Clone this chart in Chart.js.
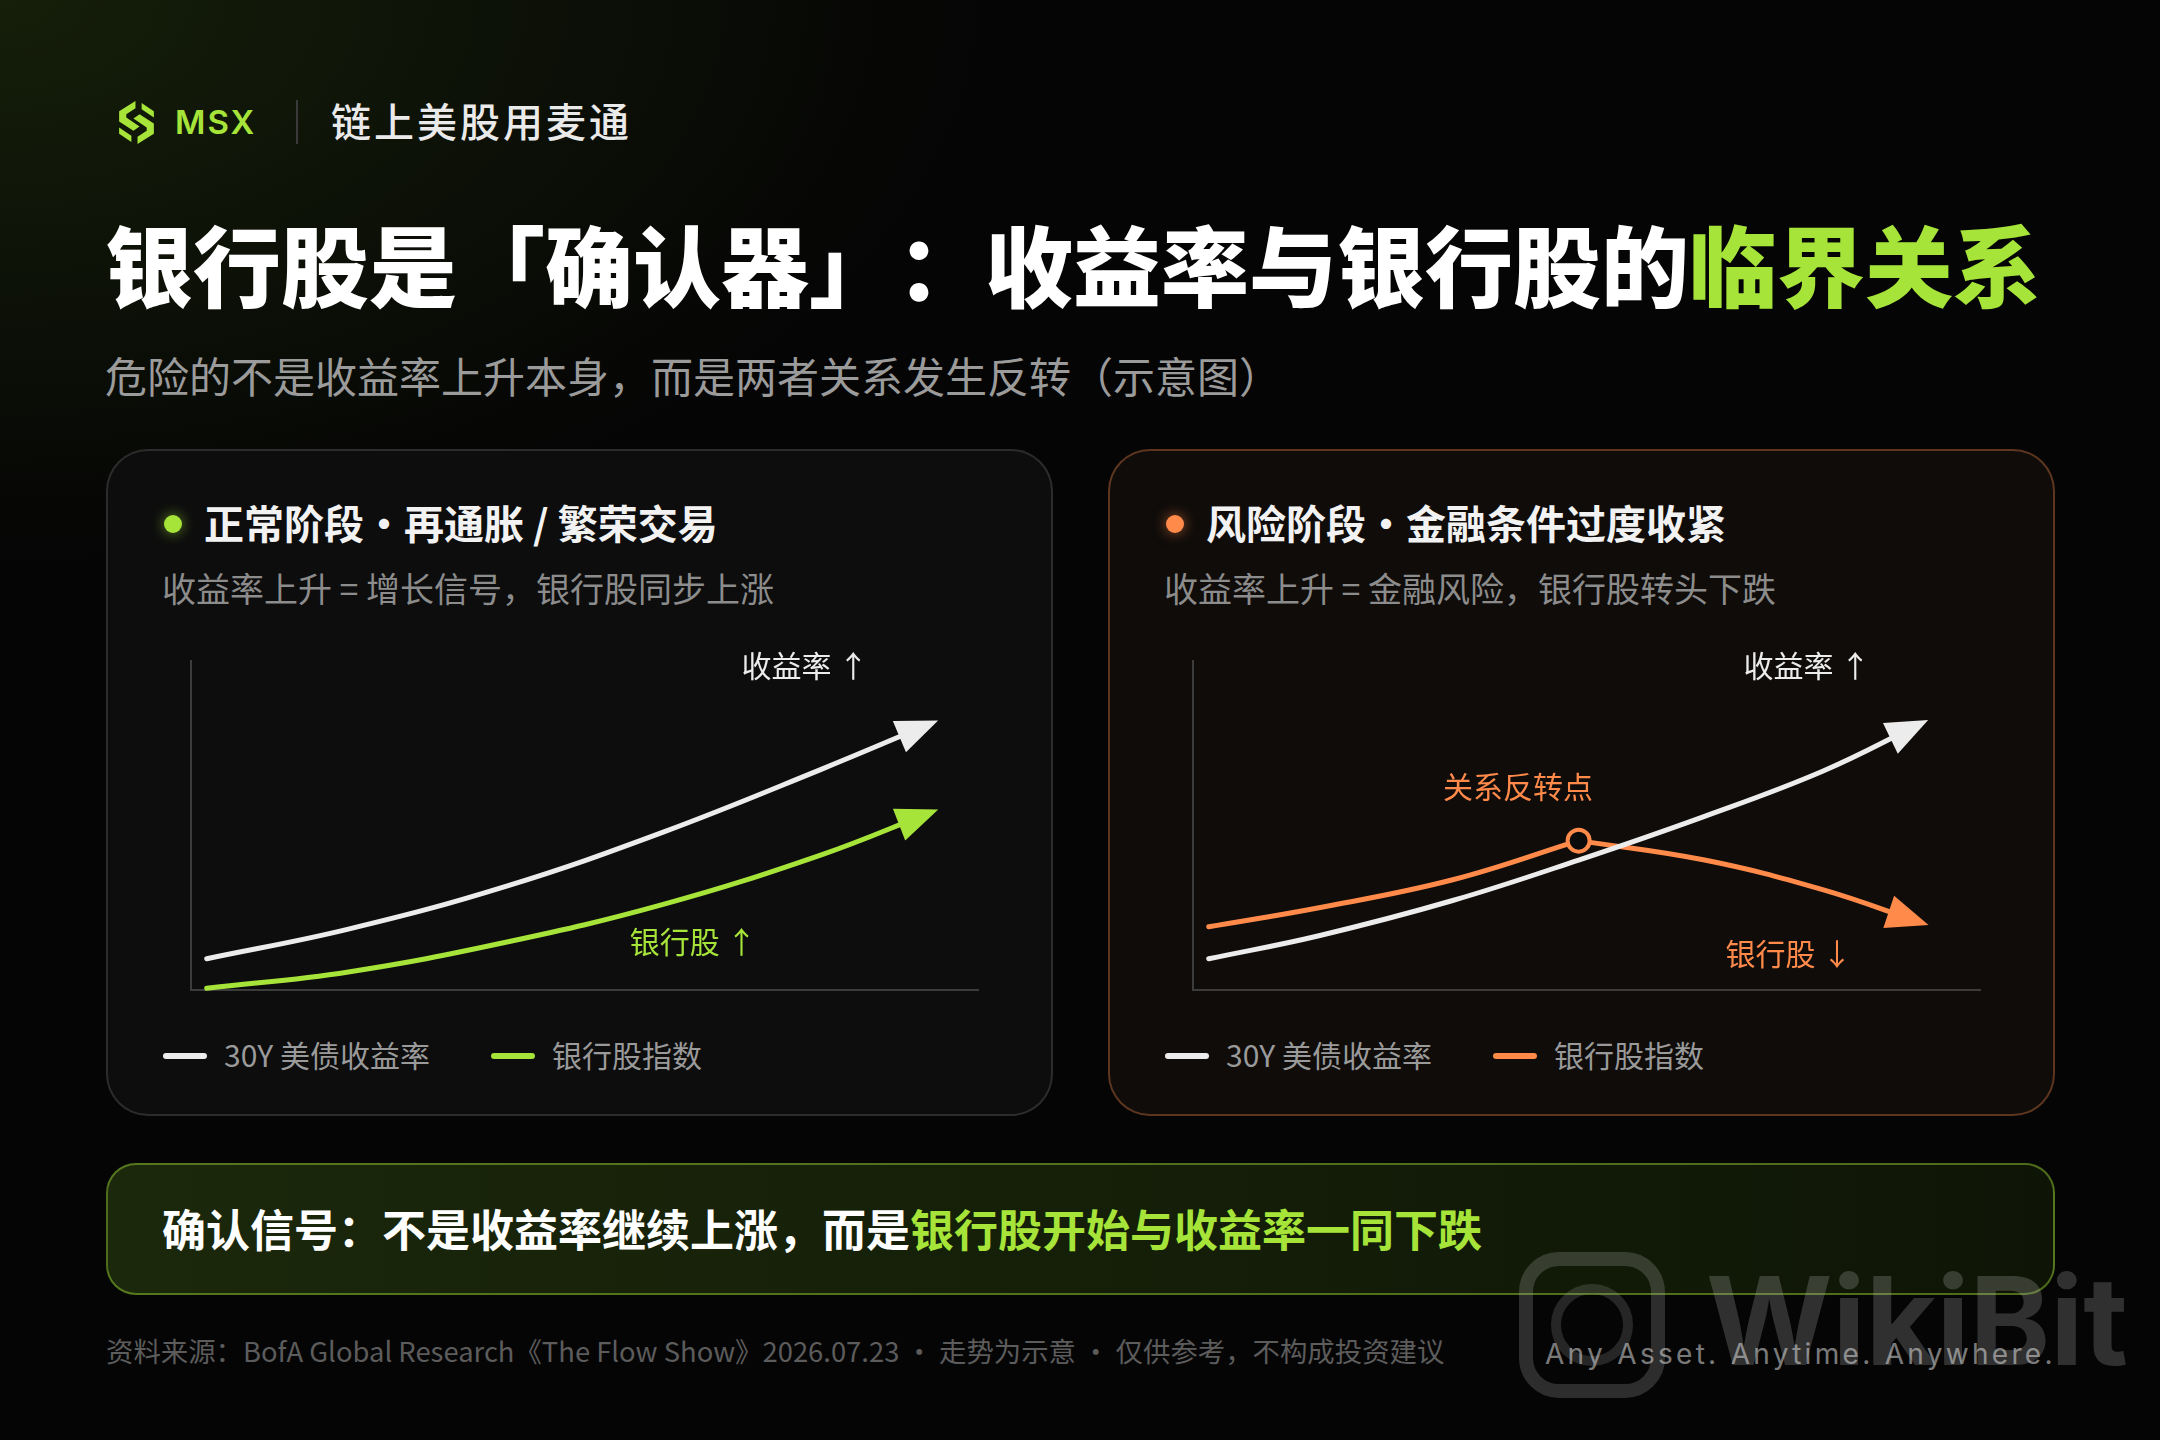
<!DOCTYPE html>
<html lang="zh-CN">
<head>
<meta charset="utf-8">
<title>银行股是「确认器」</title>
<script src="https://cdn.jsdelivr.net/npm/chart.js@4.4.1/dist/chart.umd.min.js"></script>
<style>
  html, body { margin: 0; padding: 0; background: #050505; }
  #page {
    position: relative; width: 2160px; height: 1440px; overflow: hidden;
    background:
      radial-gradient(ellipse 1400px 800px at 0px 0px, rgba(60, 90, 20, 0.30), rgba(0, 0, 0, 0) 70%),
      #050505;
    font-family: "Noto Sans CJK SC", "Noto Sans", sans-serif;
  }
  .abs { position: absolute; line-height: 1; white-space: nowrap; }
  .lime { color: #a6e43a; }
  .card {
    position: absolute; top: 449px; width: 947px; height: 667px;
    box-sizing: border-box; border-radius: 42px;
  }
  #cardL { left: 106px; background: #0d0d0d; border: 2px solid rgba(255, 255, 255, 0.13); }
  #cardR { left: 1108px; background: #0f0c0a; border: 2px solid rgba(255, 140, 80, 0.33); }
  .dot { position: absolute; left: 56px; top: 64px; width: 18px; height: 18px; border-radius: 50%; }
  .head { left: 96px; top: 51px; font-size: 40px; font-weight: 700; color: #f2f2f2; }
  .sub { left: 54px; top: 120px; font-size: 34px; color: #8c8c8c; }
  .chartBox { position: absolute; top: 170px; width: 827px; height: 388px; left: 63px; }
  .leg { position: absolute; top: 602px; width: 44px; height: 6px; border-radius: 3px; }
  .legTxt { top: 588px; font-size: 30px; color: #9a9a9a; }
  #banner {
    position: absolute; left: 106px; top: 1163px; width: 1949px; height: 132px;
    box-sizing: border-box; border-radius: 30px;
    border: 2px solid rgba(166, 228, 58, 0.42);
    background: linear-gradient(90deg, #1b280b 0%, #141e08 55%, #0f1506 100%);
  }
  #title { text-spacing-trim: space-all; }
</style>
</head>
<body>
<div id="page">
  <!-- logo row -->
  <svg class="abs" style="left:113px;top:99px" width="47" height="47" viewBox="0 0 46 46">
    <g fill="#a6e43a">
      <path d="M22 2 L6 12 L6 22 L20 31 L26 27 L13 18 L13 15 L22 9 Z"/>
      <path d="M24 44 L40 34 L40 24 L26 15 L20 19 L33 28 L33 31 L24 37 Z"/>
      <path d="M28 4 L40 12 L40 18 L28 10 Z"/>
      <path d="M18 42 L6 34 L6 28 L18 36 Z"/>
    </g>
  </svg>
  <div class="abs lime" style="left:175px;top:106px;font-family:Inter,sans-serif;font-weight:600;font-size:33px;letter-spacing:2px">MSX</div>
  <div class="abs" style="left:296px;top:100px;width:2px;height:44px;background:#3a3a3a"></div>
  <div class="abs" style="left:331px;top:100px;font-size:40px;font-weight:500;color:#eaeaea;letter-spacing:3px">链上美股用麦通</div>

  <!-- title -->
  <div id="title" class="abs" style="left:105px;top:218px;font-size:88px;font-weight:900;color:#ffffff">银行股是「确认器<span style="display:inline-block">」</span><span style="display:inline-block">：</span>收益率与银行股的<span class="lime">临界关系</span></div>
  <div class="abs" style="left:105px;top:354px;font-size:42px;color:#9b9b9b">危险的不是收益率上升本身，而是两者关系发生反转（示意图）</div>

  <!-- left card -->
  <div class="card" id="cardL">
    <div class="dot" style="background:#a6e43a;box-shadow:0 0 14px rgba(166,228,58,0.6)"></div>
    <div class="abs head">正常阶段·再通胀 / 繁荣交易</div>
    <div class="abs sub">收益率上升 = 增长信号，银行股同步上涨</div>
    <div class="chartBox"><canvas id="chartL"></canvas></div>
    <div id="legendL"></div>
  </div>

  <!-- right card -->
  <div class="card" id="cardR">
    <div class="dot" style="background:#ff8a4a;box-shadow:0 0 14px rgba(255,138,74,0.6)"></div>
    <div class="abs head">风险阶段·金融条件过度收紧</div>
    <div class="abs sub">收益率上升 = 金融风险，银行股转头下跌</div>
    <div class="chartBox"><canvas id="chartR"></canvas></div>
    <div id="legendR"></div>
  </div>

  <!-- banner -->
  <div id="banner">
    <div class="abs" style="left:54px;top:41px;font-size:44px;font-weight:700;color:#ffffff">确认信号：不是收益率继续上涨，而是<span class="lime">银行股开始与收益率一同下跌</span></div>
  </div>

  <!-- footer -->
  <div class="abs" style="left:106px;top:1337px;font-size:27.4px;color:#5c5c5c">资料来源：BofA Global Research《The Flow Show》2026.07.23 · 走势为示意 · 仅供参考，不构成投资建议</div>

  <!-- watermark -->
  <div class="abs" style="left:1519px;top:1252px;width:146px;height:146px;box-sizing:border-box;border-radius:40px;border:14px solid rgba(190,190,190,0.22)"></div>
  <div class="abs" style="left:1551px;top:1284px;width:82px;height:82px;box-sizing:border-box;border-radius:50%;border:10px solid rgba(190,190,190,0.18)"></div>
  <div class="abs" style="left:1706px;top:1260px;font-family:Inter,sans-serif;font-weight:700;font-size:122px;color:rgba(190,190,190,0.24)">WikiBit</div>
  <div class="abs" style="left:1545px;top:1340px;font-family:Inter,sans-serif;font-size:28px;letter-spacing:3.3px;color:rgba(225,225,225,0.55)">Any Asset. Anytime. Anywhere.</div>
</div>

<script>
// ---- data (schematic) ----
const seriesNames = ['30Y 美债收益率', '银行股指数'];

// normal phase
const xLeft = [0.2, 2, 4, 6, 8, 9.4];
const yieldLeft = [0.95, 1.85, 3.15, 4.8, 6.7, 8.1];
const bankLeft = [0.05, 0.55, 1.45, 2.6, 4.1, 5.4];

// risk phase
const xRight = [0.2, 1.6, 3.3, 4.9, 6.5, 8.0, 9.25];
const yieldRight = [0.95, 1.65, 2.72, 3.95, 5.28, 6.65, 8.1];
const bankRight = [1.92, 2.5, 3.35, 4.54, 3.95, 3.05, 2.05];
const turnIndex = 3;

const WHITE = '#ececec';
const LIME = '#a6e43a';
const ORANGE = '#ff8a4a';
const AXIS = '#3c3c3c';
const FONT = '"Noto Sans CJK SC", "Noto Sans", sans-serif';

function pts(xs, ys) {
  return xs.map((x, i) => ({ x: x, y: ys[i] }));
}

function lineSet(label, data, color, order, arrow) {
  return {
    label: label, data: data, borderColor: color, backgroundColor: color,
    borderWidth: 5, tension: 0.4, pointRadius: 0, borderCapStyle: 'round',
    clip: false, order: order, arrowHead: arrow
  };
}

// arrow heads and text notes drawn on top of the lines
function overlay(notes) {
  return {
    id: 'overlay',
    afterDatasetsDraw(chart) {
      const ctx = chart.ctx;
      ctx.save();
      chart.data.datasets.forEach((ds, i) => {
        if (!ds.arrowHead) return;
        const els = chart.getDatasetMeta(i).data;
        const end = els[els.length - 1];
        let dx = end.x - end.cp1x, dy = end.y - end.cp1y;
        if (!isFinite(dx) || (dx === 0 && dy === 0)) {
          const prev = els[els.length - 2];
          dx = end.x - prev.x; dy = end.y - prev.y;
        }
        const len = Math.hypot(dx, dy);
        const ux = dx / len, uy = dy / len;
        const tipX = end.x + ux * 8, tipY = end.y + uy * 8;
        const bx = tipX - ux * 42, by = tipY - uy * 42;
        ctx.fillStyle = ds.borderColor;
        ctx.beginPath();
        ctx.moveTo(tipX, tipY);
        ctx.lineTo(bx - uy * 17, by + ux * 17);
        ctx.lineTo(bx + uy * 17, by - ux * 17);
        ctx.closePath();
        ctx.fill();
      });
      ctx.font = '30px ' + FONT;
      ctx.textAlign = 'center';
      ctx.textBaseline = 'middle';
      notes.forEach(n => {
        ctx.fillStyle = n.color;
        ctx.fillText(n.text, chart.scales.x.getPixelForValue(n.x), chart.scales.y.getPixelForValue(n.y));
      });
      ctx.restore();
    }
  };
}

function axis() {
  return {
    type: 'linear', min: 0, max: 10,
    grid: { display: false, drawTicks: false },
    ticks: { display: false },
    border: { display: true, color: AXIS, width: 2 }
  };
}

function makeChart(id, datasets, notes) {
  return new Chart(document.getElementById(id), {
    type: 'line',
    data: { datasets: datasets },
    options: {
      responsive: true, maintainAspectRatio: false, animation: false,
      layout: { padding: { left: 20, top: 40, right: 20, bottom: 19 } },
      scales: { x: axis(), y: axis() },
      plugins: { legend: { display: false }, tooltip: { enabled: false } }
    },
    plugins: [overlay(notes)]
  });
}

makeChart('chartL', [
  lineSet(seriesNames[0], pts(xLeft, yieldLeft), WHITE, 1, true),
  lineSet(seriesNames[1], pts(xLeft, bankLeft), LIME, 2, true)
], [
  { text: '收益率 ↑', x: 7.8, y: 9.85, color: WHITE },
  { text: '银行股 ↑', x: 6.38, y: 1.48, color: LIME }
]);

const bankRightPts = pts(xRight, bankRight);
makeChart('chartR', [
  lineSet(seriesNames[1], bankRightPts.slice(0, turnIndex + 1), ORANGE, 3, false),
  lineSet(seriesNames[1], bankRightPts.slice(turnIndex), ORANGE, 3, true),
  lineSet(seriesNames[0], pts(xRight, yieldRight), WHITE, 2, true),
  {
    label: 'turn', data: [bankRightPts[turnIndex]], showLine: false, clip: false, order: 1,
    pointRadius: 11, pointBorderWidth: 4, pointBorderColor: ORANGE, pointBackgroundColor: '#0b0b0b'
  }
], [
  { text: '收益率 ↑', x: 7.8, y: 9.85, color: WHITE },
  { text: '关系反转点', x: 4.13, y: 6.18, color: ORANGE },
  { text: '银行股 ↓', x: 7.57, y: 1.1, color: ORANGE }
]);

// html legends
function legend(id, colors) {
  const box = document.getElementById(id);
  const marks = [55, 383];
  seriesNames.forEach((name, i) => {
    const m = document.createElement('div');
    m.className = 'leg';
    m.style.left = marks[i] + 'px';
    m.style.background = colors[i];
    box.appendChild(m);
    const t = document.createElement('div');
    t.className = 'abs legTxt';
    t.style.left = (marks[i] + 61) + 'px';
    t.textContent = name;
    box.appendChild(t);
  });
}
legend('legendL', [WHITE, LIME]);
legend('legendR', [WHITE, ORANGE]);
</script>
</body>
</html>
